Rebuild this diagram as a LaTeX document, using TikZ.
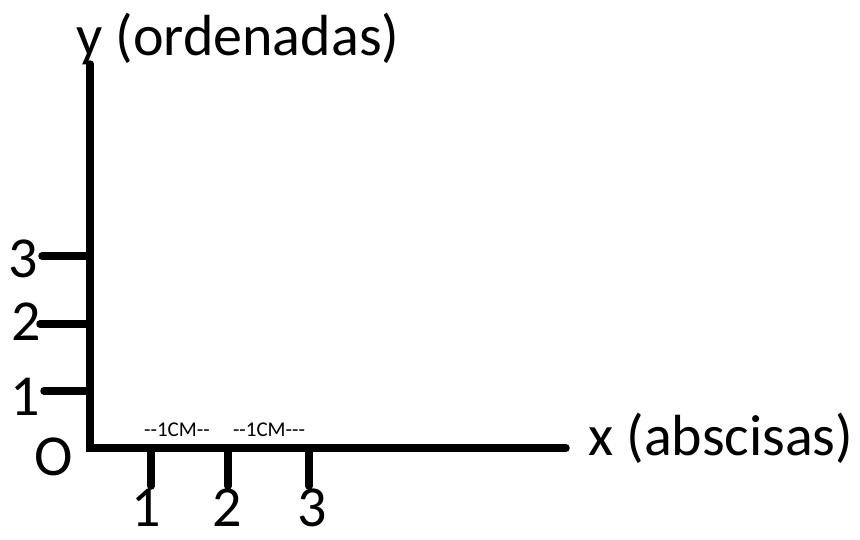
\documentclass[tikz,border=0pt]{standalone}
\usepackage{fontspec}
\setmainfont{Carlito}
\begin{document}
\begin{tikzpicture}[x=1pt,y=-1pt,
  axisline/.style={line width=7.5pt,line cap=round,black},
  bigtxt/.style={font=\fontsize{58}{60}\selectfont,inner sep=0pt,anchor=base},
  smalltxt/.style={font=\fontsize{21}{22}\selectfont,inner sep=0pt,anchor=base}]
\path[use as bounding box,fill=white] (0,0) rectangle (860,539);
% axis points
\coordinate (ytop) at (90,64);
\coordinate (o) at (90,448);
\coordinate (xend) at (566,448);
\draw[line width=7.5pt,line cap=round] (ytop) -- (o) -- (xend);
% y ticks
\coordinate (y3) at (90,256);
\coordinate (y2) at (90,324);
\coordinate (y1) at (90,391);
\coordinate (y3e) at (42,256);
\coordinate (y2e) at (40,324);
\coordinate (y1e) at (44,391);
\draw[axisline] (y3) -- (y3e);
\draw[axisline] (y2) -- (y2e);
\draw[axisline] (y1) -- (y1e);
% x ticks
\coordinate (x1) at (151,448);
\coordinate (x2) at (228,448);
\coordinate (x3) at (309,448);
\coordinate (x1e) at (151,486);
\coordinate (x2e) at (228,486);
\coordinate (x3e) at (309,486);
\draw[axisline] (x1) -- (x1e);
\draw[axisline] (x2) -- (x2e);
\draw[axisline] (x3) -- (x3e);
% labels
\node[bigtxt,anchor=base west] (ylab) at (76,55) {y (ordenadas)};
\node[bigtxt,anchor=base west] (xlab) at (588,455) {x (abscisas)};
\node[bigtxt] (l3y) at (23,277) {3};
\node[bigtxt] (l2y) at (26,340) {2};
\node[bigtxt] (l1y) at (25,415) {1};
\node[bigtxt] (lo) at (54,475) {O};
\node[bigtxt,text depth=0pt] (l1x) at (146,526) {1};
\node[bigtxt,text depth=0pt] (l2x) at (227,526) {2};
\node[bigtxt,text depth=0pt] (l3x) at (312,526) {3};
\node[smalltxt] (cm1) at (177,436) {{-}{-}1CM{-}{-}};
\node[smalltxt] (cm2) at (269,436) {{-}{-}1CM{-}{-}{-}};
\end{tikzpicture}
\end{document}
